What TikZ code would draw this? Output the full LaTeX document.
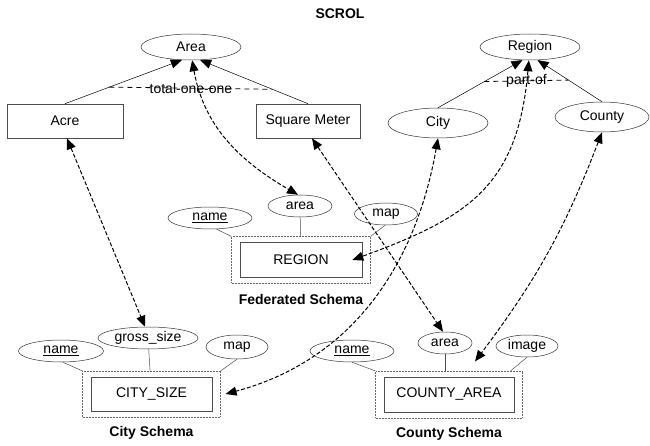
\documentclass[tikz,border=0pt]{standalone}
\usepackage{fontspec}
\setmainfont{Liberation Sans}
\usetikzlibrary{arrows.meta,positioning,fit,shapes.geometric}

\begin{document}
\begin{tikzpicture}[
  x=1pt, y=1pt,
  font=\fontsize{14}{16}\selectfont,
  concept/.style={draw=black!80, line width=0.5pt, ellipse, inner sep=0.5pt, minimum width=100pt, minimum height=26pt},
  attr/.style={draw=black!80, line width=0.5pt, ellipse, inner sep=0.5pt, minimum height=22pt},
  term/.style={draw=black!70, line width=0.6pt, minimum height=34pt, inner sep=2pt},
  entity/.style={draw=black!70, line width=0.6pt, minimum height=35pt, inner sep=2pt},
  schema/.style={draw=black!60, densely dotted, line width=0.5pt, inner xsep=8pt, inner ysep=5.5pt},
  heading/.style={font=\fontsize{14}{16}\selectfont\bfseries},
  isa/.style={-{Triangle[length=11pt,width=9pt]}, line width=0.5pt},
  link/.style={{Triangle[length=11pt,width=9pt]}-{Triangle[length=11pt,width=9pt]}, line width=1pt, dash pattern=on 4pt off 2pt},
  constraint/.style={line width=0.8pt, dash pattern=on 5pt off 4pt},
  attrline/.style={draw=black!70, line width=0.5pt}
]
\useasboundingbox (0,0) rectangle (650,445);

\node[heading] (title) at (340,431) {SCROL};

% ontology
\node[concept] (area) at (191,398) {Area};
\node[term, minimum width=116pt] (acre) at (65,324) {Acre};
\node[term, minimum width=104pt] (sqm) at (308,324) {Square Meter};
\node[concept] (region) at (530,398) {Region};
\node[concept, minimum height=30pt] (city) at (438,322) {City};
\node[concept, minimum width=94pt, minimum height=30pt] (county) at (602,328) {County};

\draw[isa] (acre.north) -- coordinate[pos=0.38] (oneA) (area.235);
\draw[isa] (sqm.north) -- coordinate[pos=0.33] (oneB) (area.305);
\draw[constraint] (oneA) -- node {total-one-one} (oneB);
\draw[isa] (city.north) -- coordinate[pos=0.55] (partA) (region.240);
\draw[isa] (county.north) -- coordinate[pos=0.52] (partB) (region.300);
\draw[constraint] (partA) -- node {part-of} (partB);

% federated schema
\node[attr, minimum width=84pt] (fname) at (210,227) {\underline{name}};
\node[attr, minimum width=64pt] (farea) at (300,239) {area};
\node[attr, minimum width=63pt] (fmap) at (386,231) {map};
\node[entity, minimum width=122pt] (finner) at (301,185) {REGION};
\node[schema, fit=(finner)] (fouter) {};
\node[heading, below=7pt of fouter] (flabel) {Federated Schema};
\draw[attrline] (fname.-60) -- (fouter.north west);
\draw[attrline] (farea) -- (fouter);
\draw[attrline] (fmap.-95) -- (fouter.north east);

% city schema
\node[attr, minimum width=85pt] (cname) at (61,94) {\underline{name}};
\node[attr, minimum width=100pt] (cgsize) at (148,107) {gross\_size};
\node[attr, minimum width=62pt, minimum height=24pt] (cmap) at (237,98) {map};
\node[entity, minimum width=121pt, minimum height=34pt] (cinner) at (151.5,51) {CITY\_SIZE};
\node[schema, fit=(cinner)] (couter) {};
\node[heading, below=6pt of couter] (clabel) {City Schema};
\draw[attrline] (cname.-80) -- (couter.north west);
\draw[attrline] (cgsize) -- (couter);
\draw[attrline] (cmap.south) -- (couter.north east);

% county schema
\node[attr, minimum width=84pt] (kname) at (352,94) {\underline{name}};
\node[attr, minimum width=54pt] (karea) at (445,102) {area};
\node[attr, minimum width=62pt] (kimage) at (527,99) {image};
\node[entity, minimum width=130pt] (kinner) at (449,50.5) {COUNTY\_AREA};
\node[schema, fit=(kinner)] (kouter) {};
\node[heading, below=6pt of kouter] (klabel) {County Schema};
\draw[attrline] (kname.south) -- (kouter.north west);
\draw[attrline] (karea) -- (karea |- kouter.north);
\draw[attrline] (kimage.south) -- ([xshift=-12pt]kouter.north east);

% mappings
\draw[link] ([xshift=2pt]acre.south) -- ([xshift=-3pt]cgsize.north);
\draw[link] (area.275) to[out=-80, in=150] (farea.100);
\draw[link] ([xshift=4pt]sqm.south) -- ([xshift=-2pt]karea.north);
\draw[link] (region.265) to[out=-95, in=20, looseness=1.2] ([xshift=-10pt]finner.east);
\draw[link] (city.south) to[out=-100, in=15] ([xshift=5pt]couter.east);
\draw[link] (county.south) to[bend left=8] ([xshift=26pt, yshift=9.5pt]kouter.north);

\end{tikzpicture}
\end{document}
